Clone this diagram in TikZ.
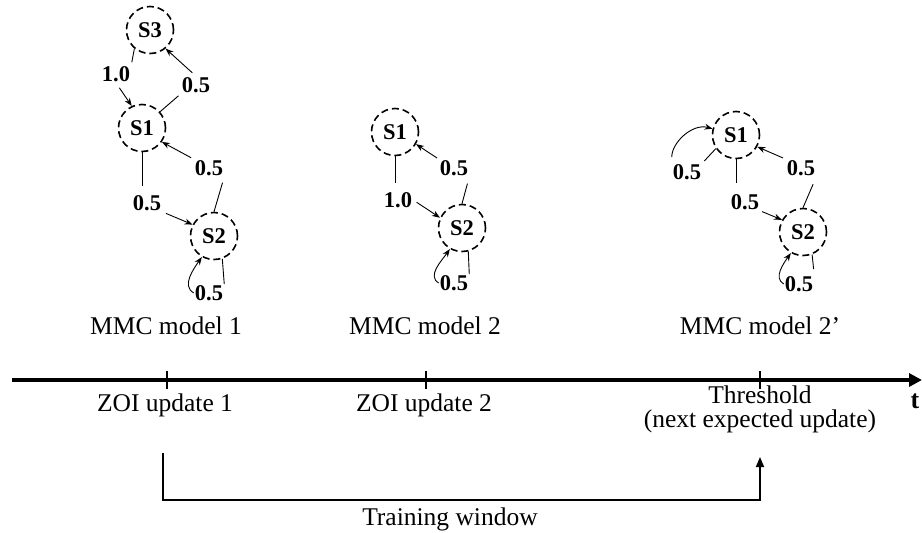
\documentclass[tikz,border=0pt]{standalone}
\usepackage{fontspec}
\setmainfont{Liberation Serif}
\usetikzlibrary{arrows.meta,calc}
\begin{document}
\begin{tikzpicture}[x=1pt,y=-1pt,
  stcirc/.style={circle,draw,dash pattern=on 7pt off 4pt,line width=1.6pt,minimum size=47pt,inner sep=0pt,font=\bfseries\fontsize{22.5}{26}\selectfont},
  lab/.style={font=\bfseries\fontsize{22.5}{26}\selectfont,inner sep=1pt},
  captext/.style={font=\fontsize{25.5}{30}\selectfont,inner sep=0pt},
  ln/.style={line width=0.9pt},
  arr/.style={line width=0.9pt,-{Stealth[length=8pt,width=6pt]}},
  axisline/.style={line width=3.5pt,-{Triangle[length=13pt,width=13pt]}},
  tickline/.style={line width=2pt},
  brkline/.style={line width=1.6pt,-{Triangle[length=10pt,width=8pt]}}]
\useasboundingbox (0,0) rectangle (922,533);
% ---------- model 1
\node[stcirc] (s3) at (150,30) {S3};
\node[stcirc] (s1a) at (142,128) {S1};
\node[stcirc] (s2a) at (214,236) {S2};
\node[lab] (la) at (116,74) {1.0};
\node[lab] (lb) at (196,85) {0.5};
\node[lab] (lc) at (147,203) {0.5};
\node[lab] (ld) at (209,168) {0.5};
\node[lab] (le) at (209,293) {0.5};
\draw[ln,shorten >=3pt] (s3.230) -- (la.north east);
\draw[arr,shorten <=6pt] (la.south) -- (s1a.115);
\draw[ln,shorten >=3pt] (s1a.42) -- (lb.south west);
\draw[arr,shorten <=5pt] (lb.north) -- (s3.-50);
\draw[ln,shorten >=8pt] (s1a.south) -- (s1a.south |- lc.north);
\draw[arr,shorten <=4pt] (lc.south east) -- (s2a.152);
\draw[ln,shorten >=6pt] (s2a.north) -- (ld.south east);
\draw[arr,shorten <=3pt] (ld.north west) -- (s1a.-35);
\draw[ln] (s2a.-70) -- (le.north east);
\draw[arr] (le.west) to[out=150,in=235] (s2a.240);
% ---------- model 2
\node[stcirc] (s1b) at (395,132) {S1};
\node[stcirc] (s2b) at (462,228) {S2};
\node[lab] (lf) at (454,168) {0.5};
\node[lab] (lg) at (398,200) {1.0};
\node[lab] (lh) at (454,283) {0.5};
\draw[ln,shorten >=8pt] (s1b.south) -- (s1b.south |- lg.north);
\draw[arr,shorten <=4pt] (lg.east) -- (s2b.155);
\draw[ln,shorten >=7pt] (s2b.north) -- (lf.south east);
\draw[arr,shorten <=2pt] (lf.north west) -- (s1b.-30);
\draw[ln] (s2b.-75) -- (lh.north east);
\draw[arr] (lh.west) to[out=150,in=235] (s2b.240);
% ---------- model 2'
\node[stcirc] (s1c) at (736,135) {S1};
\node[stcirc] (s2c) at (803,232) {S2};
\node[lab] (li) at (687,172) {0.5};
\node[lab] (lj) at (745,202) {0.5};
\node[lab] (lk) at (801,168) {0.5};
\node[lab] (ll) at (799,284) {0.5};
\draw[ln,shorten >=3pt] (s1c.214) -- (li.north east);
\draw[arr,shorten <=6pt] (li.north west) to[out=90,in=165] (s1c.165);
\draw[ln,shorten >=10pt] (s1c.south) -- (s1c.south |- lj.north);
\draw[arr,shorten <=2pt] (lj.south east) -- (s2c.150);
\draw[ln,shorten >=8pt] (s2c.north) -- (lk.south east);
\draw[arr,shorten <=3pt] (lk.north west) -- (s1c.-29);
\draw[ln,shorten >=6pt] (s2c.-68) -- (ll.north east);
\draw[arr] (ll.west) to[out=150,in=235] (s2c.240);
% ---------- time axis
\coordinate (a0) at (12,380);
\coordinate (a1) at (922,380);
\draw[axisline] (a0) -- (a1);
\coordinate (t1) at (167,380);
\coordinate (t2) at (426,380);
\coordinate (t3) at (760,380);
\foreach \t in {t1,t2,t3} \draw[tickline] ($(\t)+(0,-9)$) -- ($(\t)+(0,9)$);
\node[captext] (c1) at (166,326) {MMC model 1};
\node[captext] (c2) at (425,326) {MMC model 2};
\node[captext] (c3) at (760,326) {MMC model 2’};
\node[font=\bfseries\fontsize{26}{30}\selectfont,inner sep=0pt] (tl) at (915,401) {t};
\node[captext] (z1) at (165,405) {ZOI update 1};
\node[captext] (z2) at (424,405) {ZOI update 2};
\node[captext] (th) at (760,395) {Threshold};
\node[captext] (nx) at (760,421) {(next expected update)};
% ---------- training window
\coordinate (w0) at (163,453);
\coordinate (w1) at (163,500);
\coordinate (w2) at (760,457);
\draw[brkline] (w0) -- (w1) -| (w2);
\node[captext] (tw) at (450,519) {Training window};
\end{tikzpicture}
\end{document}
